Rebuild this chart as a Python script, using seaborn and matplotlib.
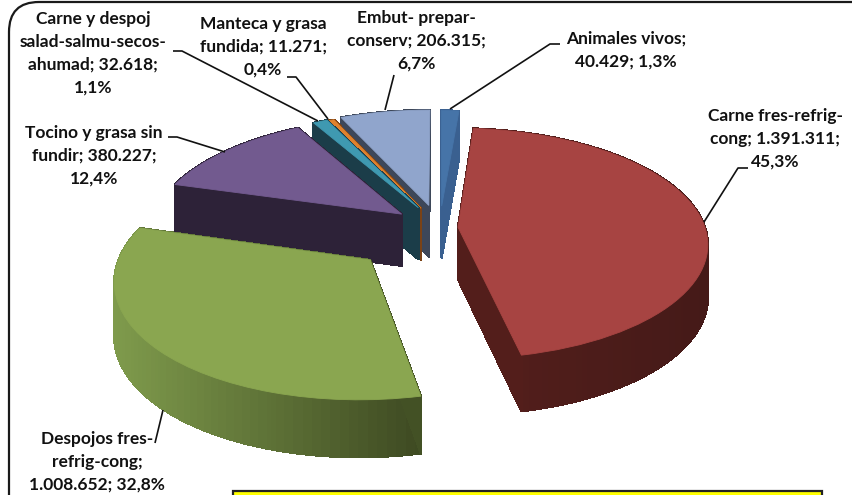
import numpy as np
import matplotlib
matplotlib.use('Agg')
import matplotlib.pyplot as plt
import matplotlib.colors as mcolors
import matplotlib.transforms as mtransforms
from matplotlib.collections import PolyCollection
from matplotlib.patches import FancyBboxPatch, Rectangle
import seaborn as sns

# data
categories = ['Animales vivos', 'Carne fres-refrig-cong', 'Despojos fres-refrig-cong',
              'Tocino y grasa sin fundir', 'Carne y despoj salad-salmu-secos-ahumad',
              'Manteca y grasa fundida', 'Embut- prepar-conserv']
values = [40429, 1391311, 1008652, 380227, 32618, 11271, 206315]
labels = ['Animales vivos;\n40.429; 1,3%',
          'Carne fres-refrig-\ncong; 1.391.311;\n45,3%',
          'Despojos fres-\nrefrig-cong;\n1.008.652; 32,8%',
          'Tocino y grasa sin\nfundir; 380.227;\n12,4%',
          'Carne y despoj\nsalad-salmu-secos-\nahumad; 32.618;\n1,1%',
          'Manteca y grasa\nfundida; 11.271;\n0,4%',
          'Embut- prepar-\nconserv; 206.315;\n6,7%']

# look of each slice
top_colors = ['#4674a8', '#a74442', '#8aa650', '#725a8f', '#3f99b1', '#e0822e', '#90a5cc']
side_light = ['#3a6090', '#551f1c', '#7f9b4c', '#2d2238', '#1b3d49', '#7b4215', '#3d4759']
side_dark = ['#3a6090', '#451a18', '#3e4a22', '#2d2238', '#1b3d49', '#7b4215', '#3d4759']
explode = [0.17, 0.08, 0.41, 0.188, 0.174, 0.165, 0.18]
# small shifts of the exploded slices, in pie radii, and their size
nudge = [(0.008, 0), (0, -0.025), (0.04, -0.015), (0, -0.02), (0, 0), (0, 0), (0, 0)]
slice_radius = [1, 0.985, 0.965, 1, 1, 1, 1]
draw_order = [0, 6, 5, 4, 3, 2, 1]

label_pos = [(626, 50), (775, 139), (97, 462), (94, 156), (93, 53), (263, 47), (416, 41)]
leaders = [[(450, 109), (550, 44), (560, 44)],
           [(704, 222), (738, 168), (748, 168)],
           [(163, 410), (155, 443)],
           [(225, 152), (177, 137), (168, 137)],
           [(318, 121), (182, 51), (173, 51)],
           [(328, 119), (296, 77), (287, 77)],
           [(385, 110), (394, 75)]]

# pie hub on the page, radii and tilt
CX, CY, RX, RY, K, DEPTH = 438, 225, 250, 114, 0.1416, 52


class Tilt(mtransforms.Transform):
    # plan view of the pie -> page pixels, far side smaller
    input_dims = output_dims = 2

    def __init__(self, z=0):
        super().__init__()
        self.z = z

    def transform_non_affine(self, xy):
        xy = np.asarray(xy)
        s = 1 / (1 + K * xy[:, 1])
        return np.column_stack([CX + RX * xy[:, 0] * s,
                                CY - RY * xy[:, 1] * s + self.z * DEPTH * np.sqrt(s)])


sns.set_theme(style='white')
plt.rcParams['font.family'] = ['Lato', 'DejaVu Sans']

fig = plt.figure(figsize=(8.52, 4.95), dpi=100)
ax = fig.add_axes([0, 0, 1, 1])
wedges, _ = ax.pie(values, explode=explode, startangle=90, counterclock=False,
                   radius=1, colors=top_colors, wedgeprops={'linewidth': 0})
ax.set_aspect('auto')
ax.set_xlim(0, 852)
ax.set_ylim(495, 0)
ax.axis('off')

# chart frame with round corners, runs off the page
ax.add_patch(FancyBboxPatch((34, 27), 900, 560, boxstyle='round,pad=25,rounding_size=30',
                            mutation_scale=1, fc='white', ec='#1a1a1a', lw=1.6, zorder=0))

top_tf = Tilt(0)
bottom_tf = Tilt(1)
scale = mtransforms.Affine2D().scale(1000)
for z, i in enumerate(draw_order):
    w = wedges[i]
    w.set_center((w.center[0] + nudge[i][0], w.center[1] + nudge[i][1]))
    w.set_radius(slice_radius[i])
    plan = w.get_path().to_polygons(transform=scale)[0] / 1000
    up = top_tf.transform_non_affine(plan)
    down = bottom_tf.transform_non_affine(plan)
    quads, cols = [], []
    x0, x1 = up[:, 0].min(), up[:, 0].max()
    c0 = np.array(mcolors.to_rgb(side_light[i]))
    c1 = np.array(mcolors.to_rgb(side_dark[i]))
    for j in range(len(up) - 1):
        quads.append([up[j], up[j + 1], down[j + 1], down[j]])
        t = ((up[j, 0] + up[j + 1, 0]) / 2 - x0) / (x1 - x0)
        cols.append(c0 + (c1 - c0) * t)
    ax.add_collection(PolyCollection(quads, facecolors=cols, edgecolors=cols, linewidths=1,
                                     antialiaseds=False, zorder=2 * z + 1))
    w.set_transform(top_tf + ax.transData)
    w.set_edgecolor(top_colors[i])
    w.set_linewidth(0.6)
    w.set_zorder(2 * z + 2)

for txt, (x, y) in zip(labels, label_pos):
    ax.text(x, y, txt, ha='center', va='center', fontsize=12.5, fontweight='bold',
            color='#111111', linespacing=1.52, zorder=30)
for pts in leaders:
    xs, ys = zip(*pts)
    ax.plot(xs, ys, color='#111111', lw=1.2, zorder=29, solid_capstyle='butt')

# note box at the bottom, cut by the page edge
ax.add_patch(Rectangle((233, 491), 589, 20, fc='#ffff00', ec='#222222', lw=1.6, zorder=31))

fig.savefig('out.png', dpi=100)
